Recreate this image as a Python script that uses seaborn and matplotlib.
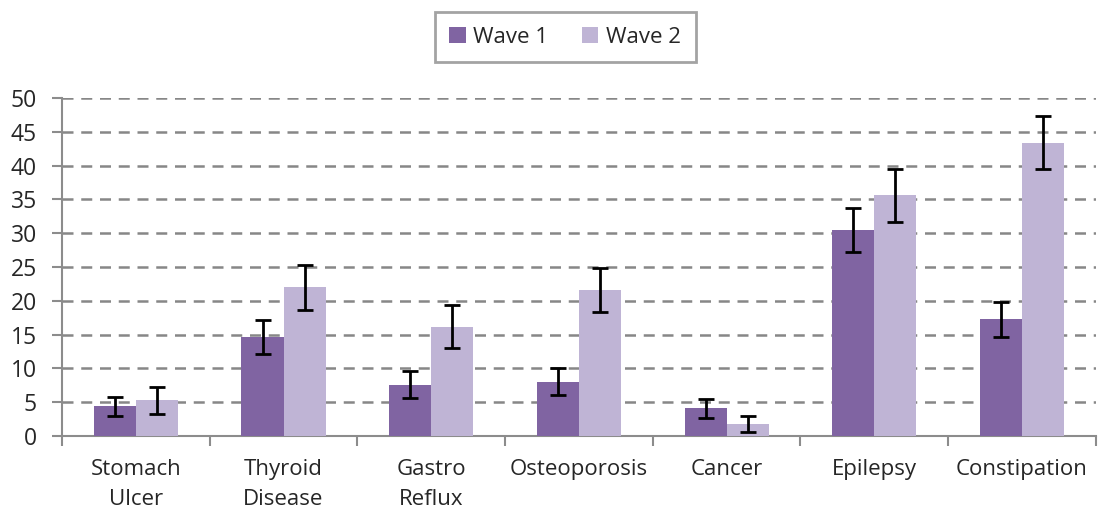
import numpy as np
import pandas as pd
import matplotlib
matplotlib.use("Agg")
import matplotlib.pyplot as plt
import seaborn as sns

categories = ["Stomach\nUlcer", "Thyroid\nDisease", "Gastro\nReflux", "Osteoporosis",
              "Cancer", "Epilepsy", "Constipation"]
wave1 = [4.4, 14.6, 7.6, 8.0, 4.1, 30.5, 17.3]
wave2 = [5.3, 22.0, 16.2, 21.6, 1.8, 35.6, 43.4]
wave1_err = [1.4, 2.5, 2.0, 2.0, 1.4, 3.3, 2.6]
wave2_err = [2.0, 3.3, 3.2, 3.3, 1.2, 3.9, 3.9]
series = ["Wave 1", "Wave 2"]
colors = ["#8064A2", "#BFB4D5"]

sns.set_style("white")
plt.rcParams["font.family"] = ["Open Sans", "DejaVu Sans"]

df = pd.DataFrame({
    "category": categories * 2,
    "series": [series[0]] * len(categories) + [series[1]] * len(categories),
    "value": wave1 + wave2,
    "err": wave1_err + wave2_err,
})

fig = plt.figure(figsize=(10.98, 5.16), dpi=100)
ax = fig.add_axes([0.0565, 0.155, 0.9415, 0.655])

sns.barplot(data=df, x="category", y="value", hue="series", palette=colors,
            width=0.57, errorbar=None, ax=ax, saturation=1, zorder=3,
            linewidth=0)

# error bars from the drawn bar positions
errs = wave1_err + wave2_err
for patch, e in zip(ax.patches[:len(errs)], errs):
    xc = patch.get_x() + patch.get_width() / 2
    ax.errorbar(xc, patch.get_height(), yerr=e, color="black", lw=2,
                capsize=5.8, capthick=2, zorder=4)

ax.set_ylim(0, 50)
ax.set_xlim(-0.5, len(categories) - 0.5)
ax.set_yticks(np.arange(0, 51, 5))
ax.yaxis.grid(True, linestyle=(0, (4.4, 3.1)), color="#878787", lw=1.8, zorder=0)
ax.set_xlabel("")
ax.set_ylabel("")

for s in ["top", "right"]:
    ax.spines[s].set_visible(False)
for s in ["left", "bottom"]:
    ax.spines[s].set_color("#8c8c8c")
    ax.spines[s].set_linewidth(1.5)

ax.tick_params(axis="y", left=True, length=7, width=1.5, color="#8c8c8c",
               labelsize=16.5, pad=11)
ax.tick_params(axis="x", which="major", bottom=False, labelsize=16, pad=13)
ax.set_xticks(np.arange(-0.5, len(categories)), minor=True)
ax.tick_params(axis="x", which="minor", bottom=True, length=7, width=1.5,
               color="#8c8c8c")
for lbl in ax.get_xticklabels():
    lbl.set_linespacing(1.55)

leg = ax.legend(loc="center", bbox_to_anchor=(0.4866, 1.18), ncol=2,
                fontsize=16, frameon=True, fancybox=False, handlelength=0.75,
                handleheight=0.75, handletextpad=0.35, columnspacing=1.5,
                borderpad=0.65)
leg.get_frame().set_edgecolor("#8c8c8c")
leg.get_frame().set_linewidth(2)

fig.savefig("out.png", dpi=100)
